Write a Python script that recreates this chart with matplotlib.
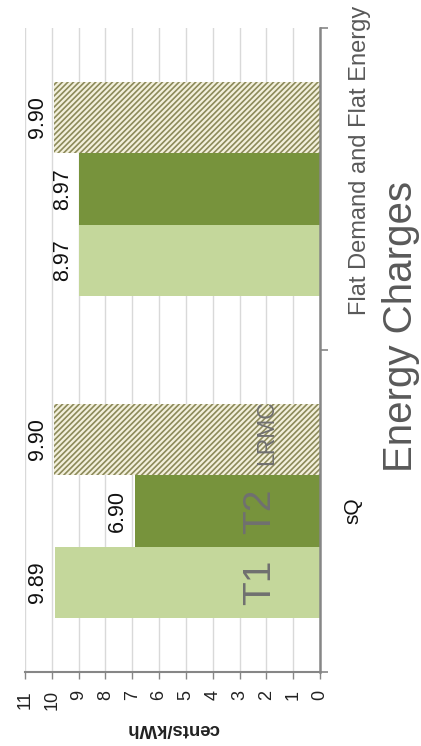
import matplotlib
matplotlib.use("Agg")
import matplotlib.pyplot as plt
import numpy as np

plt.rcParams['font.family'] = ['Liberation Sans', 'DejaVu Sans']
plt.rcParams['hatch.linewidth'] = 1.2

# ---- data ----
categories = ["sQ", "Flat Demand and Flat Energy"]
series_names = ["T1", "T2", "LRMC"]
t1_values = [9.89, 8.97]
t2_values = [6.90, 8.97]
lrmc_values = [9.90, 9.90]
value_ticks = list(range(0, 12))
value_label = "cents/kWh"
title = "Energy Charges"

W, H = 421, 746
fig = plt.figure(figsize=(W / 100, H / 100), dpi=100)

def fx(px):
    return px / W

def fy(py):
    return 1 - py / H

ax = fig.add_axes([fx(25), fy(672), fx(320) - fx(25), fy(28) - fy(672)])

bar_h = 0.222
ypos = np.arange(len(categories))
series = [t1_values, t2_values, lrmc_values]
offsets = [-bar_h, 0, bar_h]
colors = ["#C4D79B", "#77933C", "#F3F0DC"]

for name, vals, off, col in zip(series_names, series, offsets, colors):
    if name == "LRMC":
        ax.barh(ypos + off, vals, height=bar_h, color=col,
                edgecolor="#8C8A5A", linewidth=0, hatch="//////", zorder=2)
    else:
        ax.barh(ypos + off, vals, height=bar_h, color=col,
                linewidth=0, zorder=2)
    for yv, v in zip(ypos + off, vals):
        ax.annotate(f"{v:.2f}", xy=(v, yv), xytext=(-8.5, 0),
                    textcoords="offset points", rotation=90,
                    rotation_mode="anchor", ha="center", va="baseline",
                    fontsize=15.5, color="#111111")

ax.set_xlim(11, 0)
ax.set_ylim(-0.5, 1.5)
ax.set_xticks(value_ticks)
ax.set_xticklabels([str(t) for t in value_ticks], rotation=90,
                   fontsize=13, color="#222222")
ax.grid(axis="x", color="#D9D9D9", linewidth=1, zorder=0)
ax.set_axisbelow(True)

ax.yaxis.tick_right()
ax.set_yticks([-0.5, 0.5, 1.5])
ax.set_yticklabels([])
ax.tick_params(axis="y", direction="out", length=6, color="#868686", width=1.2)
ax.tick_params(axis="x", direction="out", length=5, color="#868686", width=1.0, pad=8)

for s in ["top", "left"]:
    ax.spines[s].set_visible(False)
ax.spines["right"].set_color("#868686")
ax.spines["right"].set_linewidth(1.8)
ax.spines["bottom"].set_color("#868686")
ax.spines["bottom"].set_linewidth(1.5)

# series labels inside bars
ax.text(2.24, 0 - bar_h, "T1", rotation=90, rotation_mode="anchor",
        ha="center", va="center", fontsize=28, color="#707070", zorder=3)
ax.text(2.24, 0, "T2", rotation=90, rotation_mode="anchor",
        ha="center", va="center", fontsize=28, color="#707070", zorder=3)
ax.text(2.0, 0.244, "LRMC", rotation=90, rotation_mode="anchor",
        ha="center", va="center", fontsize=16.5, color="#707070", zorder=3)

# category labels
fig.text(fx(358), fy(511), categories[0], rotation=90, rotation_mode="anchor",
         ha="center", va="baseline", fontsize=15, color="#111111")
fig.text(fx(366), fy(160), categories[1], rotation=90, rotation_mode="anchor",
         ha="center", va="baseline", fontsize=17, color="#595959")

# title
fig.text(fx(412), fy(326), title, rotation=90, rotation_mode="anchor",
         ha="center", va="baseline", fontsize=29, color="#595959")

# value axis label (upside-down)
fig.text(fx(173), fy(729), value_label, rotation=180, ha="center", va="center",
         fontsize=13.4, fontweight="bold", color="#222222")

fig.savefig("out.png", dpi=100)
